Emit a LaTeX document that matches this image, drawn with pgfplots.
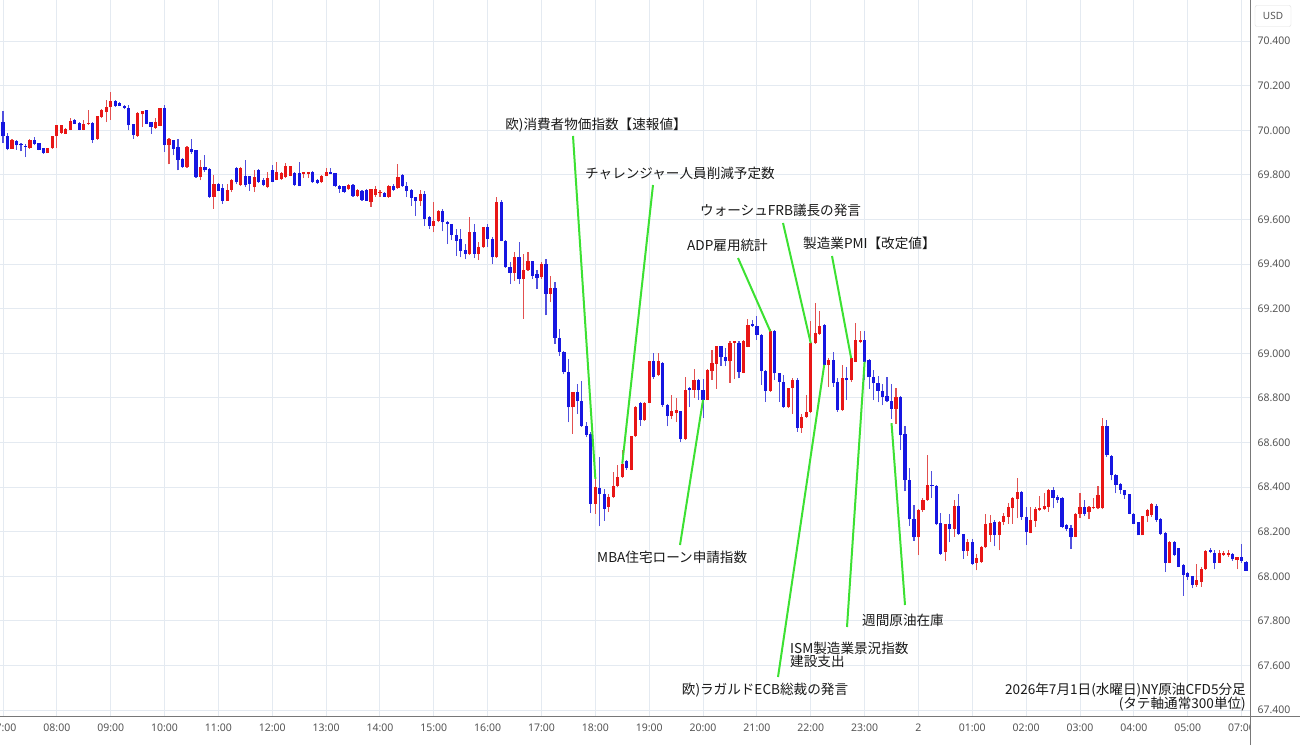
\documentclass[border=0pt]{standalone}
\usepackage{pgfplots}
\pgfplotsset{compat=1.18}
\usepackage{pgfplotstable}
\usepackage{fontspec}
\setmainfont{Noto Sans}
\newfontfamily\jp{Noto Sans CJK JP}
\definecolor{cred}{RGB}{232,22,22}
\definecolor{cblue}{RGB}{22,22,225}
\definecolor{wred}{RGB}{226,80,80}
\definecolor{wblue}{RGB}{80,80,222}
\definecolor{gridc}{RGB}{228,234,241}
\definecolor{axc}{RGB}{120,120,120}
\definecolor{tickc}{RGB}{85,85,85}
\definecolor{lg}{RGB}{60,225,50}
\definecolor{txt}{RGB}{25,25,25}

\pgfplotstableread{
i o h l c
2 69.917 69.961 69.915 69.955
6 69.920 69.961 69.917 69.956
10 69.898 69.922 69.896 69.920
11 69.920 69.976 69.917 69.973
12 69.973 70.024 69.920 70.022
13 69.990 70.025 69.985 70.022
14 69.985 70.010 69.983 70.006
15 70.003 70.055 70.000 70.040
18 70.003 70.048 70.000 70.028
19 70.028 70.093 70.025 70.033
21 69.961 70.066 69.958 70.063
22 70.060 70.096 70.055 70.090
23 70.082 70.138 70.037 70.103
24 70.103 70.171 70.048 70.130
30 69.975 70.080 69.972 70.078
31 70.071 70.088 70.015 70.087
34 70.012 70.053 70.008 70.035
35 70.020 70.100 70.018 70.098
37 69.933 69.965 69.847 69.963
41 69.835 69.928 69.833 69.925
44 69.790 69.865 69.775 69.835
47 69.703 69.798 69.648 69.760
50 69.685 69.757 69.683 69.733
51 69.733 69.782 69.723 69.778
53 69.753 69.835 69.750 69.832
56 69.745 69.820 69.723 69.790
59 69.745 69.815 69.740 69.785
61 69.778 69.856 69.775 69.811
62 69.780 69.815 69.778 69.808
63 69.790 69.853 69.785 69.842
64 69.796 69.840 69.793 69.838
67 69.805 69.813 69.785 69.811
68 69.805 69.813 69.785 69.811
71 69.766 69.798 69.763 69.796
72 69.796 69.830 69.793 69.815
77 69.736 69.757 69.733 69.755
79 69.706 69.735 69.703 69.733
82 69.680 69.738 69.658 69.736
83 69.710 69.748 69.703 69.736
84 69.718 69.733 69.703 69.721
86 69.700 69.755 69.698 69.752
88 69.740 69.847 69.737 69.790
93 69.682 69.733 69.662 69.715
96 69.572 69.677 69.542 69.595
97 69.592 69.643 69.587 69.640
104 69.445 69.612 69.443 69.542
106 69.445 69.500 69.418 69.475
107 69.475 69.567 69.472 69.565
110 69.430 69.700 69.427 69.680
114 69.362 69.452 69.325 69.433
116 69.333 69.445 69.154 69.373
117 69.373 69.452 69.370 69.412
120 69.340 69.408 69.333 69.400
122 69.266 69.348 69.228 69.292
127 68.758 68.827 68.640 68.825
132 68.325 68.437 68.280 68.400
135 68.310 68.370 68.288 68.355
136 68.355 68.467 68.350 68.407
137 68.407 68.497 68.400 68.444
138 68.445 68.565 68.440 68.505
140 68.477 68.630 68.475 68.627
141 68.627 68.762 68.625 68.759
143 68.699 68.780 68.697 68.777
144 68.777 68.967 68.775 68.964
146 68.904 69.002 68.897 68.964
149 68.717 68.815 68.705 68.740
150 68.732 68.800 68.694 68.747
152 68.615 68.894 68.613 68.837
154 68.837 68.930 68.800 68.882
157 68.792 68.930 68.790 68.927
158 68.920 69.017 68.882 68.957
159 68.954 69.034 68.840 69.032
162 68.964 69.054 68.867 69.047
163 69.047 69.056 68.884 69.054
165 68.913 69.060 68.910 69.053
166 69.030 69.153 69.027 69.128
171 68.832 69.108 68.828 69.098
175 68.757 68.845 68.755 68.843
176 68.843 68.888 68.730 68.880
178 68.663 68.730 68.643 68.715
179 68.715 68.813 68.712 68.738
180 68.738 69.143 68.733 69.045
181 69.045 69.225 69.042 69.090
182 69.086 69.188 69.083 69.123
184 68.948 68.978 68.848 68.970
187 68.745 68.948 68.742 68.888
189 68.878 68.980 68.873 68.978
190 68.963 69.138 68.960 69.060
191 69.050 69.098 69.045 69.060
199 68.751 68.844 68.685 68.806
204 68.174 68.300 68.095 68.297
205 68.297 68.352 68.290 68.344
206 68.341 68.544 68.338 68.410
210 68.107 68.235 68.070 68.233
212 68.211 68.341 68.178 68.315
215 68.115 68.167 68.093 68.152
217 68.060 68.100 68.026 68.080
218 68.063 68.135 68.060 68.130
219 68.130 68.280 68.125 68.235
220 68.186 68.275 68.156 68.241
222 68.186 68.250 68.116 68.245
223 68.245 68.283 68.230 68.270
224 68.267 68.327 68.235 68.312
225 68.305 68.357 68.235 68.350
226 68.345 68.440 68.260 68.380
229 68.196 68.312 68.193 68.253
230 68.250 68.312 68.223 68.300
231 68.296 68.360 68.292 68.305
232 68.300 68.372 68.297 68.315
233 68.312 68.390 68.290 68.387
239 68.178 68.283 68.175 68.280
240 68.280 68.372 68.260 68.310
242 68.290 68.314 68.256 68.312
243 68.305 68.350 68.300 68.312
244 68.305 68.405 68.300 68.365
245 68.305 68.712 68.300 68.673
254 68.184 68.270 68.183 68.269
255 68.269 68.303 68.244 68.296
256 68.274 68.329 68.266 68.326
260 68.061 68.157 68.058 68.155
266 67.961 68.054 67.954 67.984
267 67.976 68.040 67.954 68.031
268 68.031 68.117 68.030 68.113
271 68.061 68.117 68.058 68.103
272 68.095 68.113 68.091 68.103
273 68.095 68.120 68.088 68.106
275 68.073 68.087 68.031 68.085
}\up

\pgfplotstableread{
i o h l c
0 70.039 70.085 69.943 69.973
1 69.976 69.988 69.910 69.916
3 69.953 69.958 69.913 69.932
4 69.938 69.943 69.905 69.932
5 69.931 69.938 69.880 69.926
7 69.956 69.968 69.932 69.940
8 69.943 69.945 69.910 69.913
9 69.920 69.922 69.895 69.898
16 70.045 70.051 70.026 70.030
17 70.033 70.036 70.000 70.003
20 70.033 70.035 69.943 69.958
25 70.130 70.138 70.105 70.108
26 70.123 70.125 70.108 70.111
27 70.111 70.115 70.094 70.100
28 70.102 70.113 70.000 70.022
29 70.026 70.026 69.963 69.978
32 70.090 70.093 70.026 70.030
33 70.038 70.038 69.985 70.015
36 70.098 70.113 69.903 69.933
38 69.955 69.957 69.888 69.918
39 69.925 69.963 69.820 69.868
40 69.873 69.875 69.832 69.835
42 69.918 69.963 69.895 69.903
43 69.910 69.912 69.787 69.790
45 69.835 69.888 69.813 69.820
46 69.828 69.830 69.698 69.700
48 69.760 69.762 69.728 69.730
49 69.741 69.757 69.670 69.685
52 69.832 69.835 69.757 69.768
54 69.793 69.868 69.745 69.753
55 69.793 69.795 69.730 69.760
57 69.823 69.826 69.763 69.770
58 69.778 69.785 69.748 69.755
60 69.820 69.845 69.768 69.770
65 69.808 69.815 69.750 69.755
66 69.808 69.860 69.748 69.750
69 69.815 69.818 69.764 69.766
70 69.778 69.780 69.760 69.763
73 69.812 69.830 69.803 69.805
74 69.808 69.810 69.745 69.748
75 69.748 69.755 69.720 69.736
76 69.748 69.750 69.718 69.725
78 69.755 69.757 69.703 69.706
80 69.730 69.733 69.685 69.688
81 69.733 69.735 69.683 69.685
85 69.721 69.725 69.700 69.703
87 69.752 69.760 69.730 69.733
89 69.800 69.805 69.745 69.748
90 69.748 69.767 69.700 69.730
91 69.733 69.737 69.662 69.697
92 69.700 69.700 69.617 69.682
94 69.715 69.730 69.572 69.602
95 69.610 69.617 69.557 69.572
98 69.640 69.647 69.547 69.587
99 69.590 69.595 69.490 69.580
100 69.580 69.582 69.507 69.532
101 69.532 69.557 69.437 69.505
102 69.512 69.557 69.430 69.460
103 69.462 69.490 69.422 69.445
105 69.542 69.580 69.427 69.445
108 69.565 69.582 69.475 69.512
109 69.512 69.520 69.400 69.430
111 69.680 69.687 69.502 69.505
112 69.505 69.507 69.383 69.385
113 69.385 69.410 69.310 69.362
115 69.433 69.497 69.310 69.333
118 69.412 69.414 69.333 69.348
119 69.355 69.373 69.288 69.337
121 69.400 69.422 69.170 69.266
123 69.292 69.318 69.043 69.070
124 69.070 69.110 68.990 69.005
125 69.005 69.010 68.905 68.915
126 68.915 68.975 68.690 68.758
128 68.825 68.862 68.728 68.785
129 68.785 68.876 68.670 68.676
130 68.676 68.690 68.624 68.635
131 68.636 68.645 68.283 68.325
133 68.397 68.534 68.224 68.370
134 68.370 68.392 68.250 68.303
139 68.515 68.520 68.477 68.485
142 68.777 68.780 68.675 68.702
145 68.964 69.002 68.885 68.894
147 68.957 68.960 68.760 68.769
148 68.769 68.772 68.672 68.720
151 68.740 68.742 68.600 68.615
153 68.845 68.847 68.759 68.834
155 68.882 68.884 68.792 68.834
156 68.834 68.885 68.710 68.792
160 69.032 69.034 68.942 68.984
161 68.984 69.025 68.942 68.964
164 69.047 69.054 68.888 68.915
167 69.130 69.150 69.120 69.123
168 69.123 69.165 69.060 69.083
169 69.083 69.085 68.858 68.920
170 68.920 68.923 68.783 68.832
172 69.098 69.105 68.880 68.910
173 68.910 68.912 68.783 68.873
174 68.873 68.903 68.755 68.760
177 68.880 68.888 68.648 68.667
183 69.128 69.130 68.945 68.948
185 68.970 69.008 68.850 68.866
186 68.873 68.888 68.738 68.745
188 68.888 68.940 68.790 68.878
192 69.060 69.100 68.878 68.963
193 68.970 68.975 68.840 68.892
194 68.892 68.924 68.790 68.865
195 68.865 68.900 68.780 68.833
196 68.833 68.862 68.766 68.806
197 68.810 68.895 68.780 68.785
198 68.788 68.862 68.707 68.751
200 68.806 68.808 68.566 68.633
201 68.637 68.673 68.381 68.433
202 68.433 68.485 68.226 68.255
203 68.258 68.318 68.159 68.174
207 68.410 68.470 68.352 68.406
208 68.406 68.408 68.230 68.233
209 68.238 68.285 68.095 68.100
211 68.233 68.278 68.152 68.211
213 68.315 68.370 68.187 68.189
214 68.189 68.190 68.078 68.115
216 68.155 68.167 68.051 68.056
221 68.245 68.252 68.134 68.186
227 68.380 68.382 68.253 68.265
228 68.265 68.312 68.141 68.200
234 68.387 68.400 68.305 68.350
235 68.354 68.365 68.330 68.342
236 68.350 68.355 68.216 68.223
237 68.230 68.235 68.205 68.210
238 68.216 68.230 68.122 68.178
241 68.310 68.342 68.270 68.280
246 68.673 68.703 68.536 68.543
247 68.540 68.545 68.430 68.454
248 68.454 68.460 68.372 68.410
249 68.414 68.420 68.370 68.387
250 68.385 68.385 68.348 68.363
251 68.367 68.370 68.278 68.281
252 68.281 68.282 68.233 68.236
253 68.244 68.245 68.183 68.184
257 68.314 68.326 68.244 68.254
258 68.259 68.260 68.184 68.189
259 68.195 68.200 68.021 68.061
261 68.155 68.157 68.091 68.095
262 68.125 68.127 68.040 68.043
263 68.051 68.054 67.912 68.006
264 68.013 68.021 67.984 67.998
265 68.001 68.003 67.946 67.961
269 68.117 68.125 68.103 68.110
270 68.106 68.117 68.031 68.061
274 68.099 68.103 68.070 68.076
276 68.085 68.145 68.061 68.070
277 68.065 68.067 68.024 68.025
}\down

\begin{document}
\begin{tikzpicture}[x=1pt,y=1pt]
\useasboundingbox (0,0) rectangle (1300,745);
\fill[white] (0,0) rectangle (1300,745);
\begin{axis}[
  at={(0pt,29pt)}, anchor=south west,
  scale only axis, width=1250pt, height=716pt,
  xmin=-0.67, xmax=277.88, ymin=67.3735, ymax=70.5843,
  axis x line*=bottom, axis y line*=right,
  axis line style={draw=none},
  xtick={0,12,24,36,48,60,72,84,96,108,120,132,144,156,168,180,192,204,216,228,240,252,264,276},
  xticklabels={07:00,08:00,09:00,10:00,11:00,12:00,13:00,14:00,15:00,16:00,17:00,18:00,19:00,20:00,21:00,22:00,23:00,2,01:00,02:00,03:00,04:00,05:00,07:00},
  ytick={67.4,67.6,67.8,68.0,68.2,68.4,68.6,68.8,69.0,69.2,69.4,69.6,69.8,70.0,70.2,70.4},
  yticklabels={67.400,67.600,67.800,68.000,68.200,68.400,68.600,68.800,69.000,69.200,69.400,69.600,69.800,70.000,70.200,70.400},
  grid=major, major grid style={draw=gridc, line width=1pt},
  major tick length=0pt,
  tick label style={font=\fontsize{10.5}{12}\selectfont, text=tickc},
  xticklabel style={yshift=-4pt},
  yticklabel style={xshift=4pt},
]
% wicks
\addplot[draw=none, forget plot, error bars/.cd, y dir=plus, y explicit, error mark=none,
  error bar style={draw=wred, line width=1.1pt}]
  table[x=i, y=l, y error plus expr={\thisrow{h}-\thisrow{l}}] {\up};
\addplot[draw=none, forget plot, error bars/.cd, y dir=plus, y explicit, error mark=none,
  error bar style={draw=wblue, line width=1.1pt}]
  table[x=i, y=l, y error plus expr={\thisrow{h}-\thisrow{l}}] {\down};
% bodies
\addplot[draw=none, forget plot, error bars/.cd, y dir=plus, y explicit, error mark=none,
  error bar style={draw=cred, line width=3.2pt}]
  table[x=i, y=o, y error plus expr={max(\thisrow{c}-\thisrow{o},0.005)}] {\up};
\addplot[draw=none, forget plot, error bars/.cd, y dir=plus, y explicit, error mark=none,
  error bar style={draw=cblue, line width=3.2pt}]
  table[x=i, y=c, y error plus expr={max(\thisrow{o}-\thisrow{c},0.005)}] {\down};
\coordinate (e1) at (axis cs:132,68.437);
\coordinate (e2) at (axis cs:138,68.505);
\coordinate (e3) at (axis cs:180,69.045);
\coordinate (e4) at (axis cs:171,69.098);
\coordinate (e5) at (axis cs:189,68.978);
\coordinate (e6) at (axis cs:156,68.792);
\coordinate (e7) at (axis cs:183,68.948);
\coordinate (e8) at (axis cs:192,68.963);
\coordinate (e9) at (axis cs:198,68.687);
\end{axis}
% cover the cut tick label in the price scale
\fill[white] (1251,0) rectangle (1300,27);
\draw[axc, line width=1pt] (1250,0) -- (1250,745);
\draw[axc, line width=1pt] (0,29) -- (1300,29);
\node[draw=gray!25, rounded corners=2pt, fill=white, minimum width=36pt, minimum height=21pt,
  font=\fontsize{10}{12}\selectfont, text=tickc] at (1273,729) {USD};
% annotation lines
\begin{scope}[lg, line width=2pt]
\draw (573,609) -- (e1);
\draw (653,560) -- (e2);
\draw (783,522) -- (e3);
\draw (738,487) -- (e4);
\draw (832,489) -- (e5);
\draw (680,200) -- (e6);
\draw (778,68) -- (e7);
\draw (847,118) -- (e8);
\draw (905,140) -- (e9);
\end{scope}
\begin{scope}[every node/.style={inner sep=0pt, text=txt, font=\jp\fontsize{13.6}{15}\selectfont}]
\node[anchor=center] at (596,620) {欧)消費者物価指数【速報値】};
\node[anchor=west] at (585,572) {チャレンジャー人員削減予定数};
\node[anchor=west] at (700,535) {ウォーシュFRB議長の発言};
\node[anchor=west] at (687,500) {ADP雇用統計};
\node[anchor=west] at (803,502) {製造業PMI【改定値】};
\node[anchor=west] at (597,188) {MBA住宅ローン申請指数};
\node[anchor=center] at (765,55) {欧)ラガルドECB総裁の発言};
\node[anchor=west] at (790,97) {ISM製造業景況指数};
\node[anchor=west] at (790,84) {建設支出};
\node[anchor=west] at (862,125) {週間原油在庫};
\node[anchor=east] at (1246,55) {2026年7月1日(水曜日)NY原油CFD5分足};
\node[anchor=east] at (1246,41) {(タテ軸通常300単位)};
\end{scope}
\end{tikzpicture}
\end{document}
